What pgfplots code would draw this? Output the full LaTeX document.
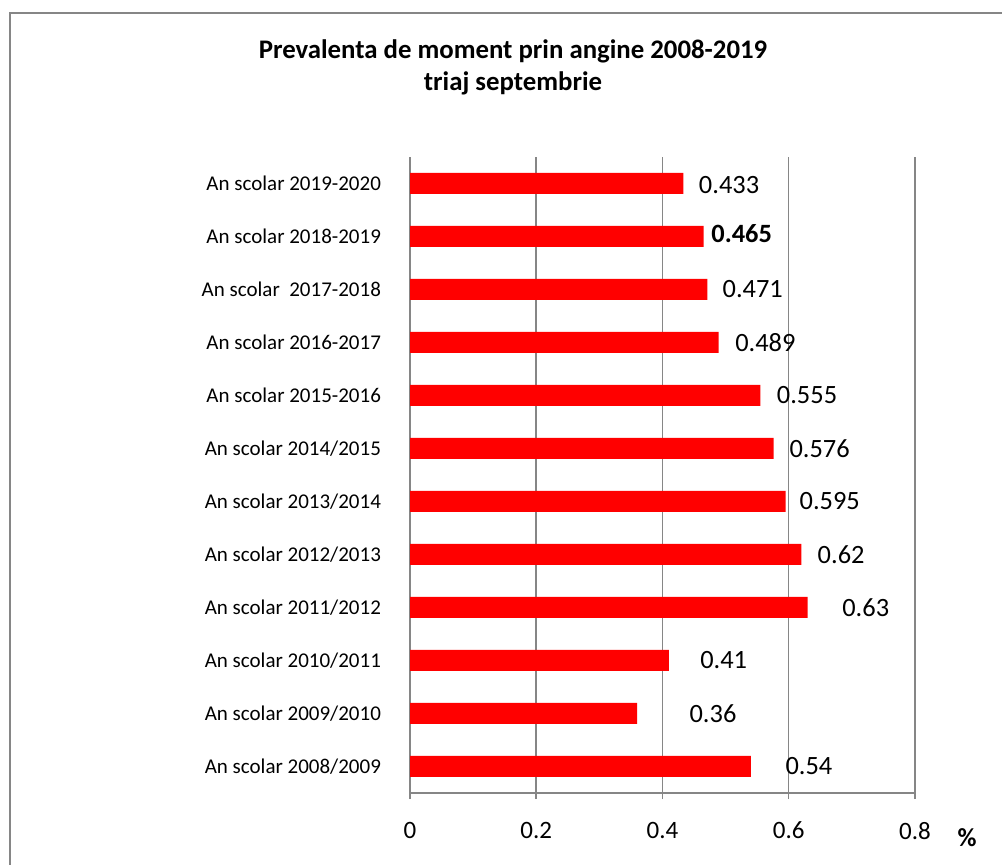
\documentclass[border=0pt]{standalone}
\usepackage{pgfplots}
\pgfplotsset{compat=1.18}
\usepackage{fontspec}
\setmainfont{Carlito}
\definecolor{axgray}{RGB}{134,134,134}
\begin{document}
\begin{tikzpicture}
\useasboundingbox (0,0) rectangle (501pt,-432.5pt);
\draw[axgray, line width=1pt] (5pt,-432.5pt) -- (5pt,-6.5pt) -- (501pt,-6.5pt);
\node[font=\bfseries\fontsize{13.4}{16}\selectfont, align=center] at (256.5pt,-33.5pt) {Prevalenta de moment prin angine 2008-2019\\triaj septembrie};
\begin{axis}[
  at={(205pt,-396.5pt)}, anchor=south west, scale only axis,
  width=252.5pt, height=318pt,
  bar width=10.5pt,
  xmin=0, xmax=0.8, ymin=-0.5, ymax=11.5,
  xtick={0,0.2,0.4,0.6,0.8},
  xticklabels={0,0.2,0.4,0.6,0.8},
  ytick={0,...,11},
  yticklabels={An scolar 2008/2009, An scolar 2009/2010, An scolar 2010/2011, An scolar 2011/2012, An scolar 2012/2013, An scolar 2013/2014, An scolar 2014/2015, An scolar 2015-2016, An scolar 2016-2017, An scolar \ 2017-2018\hspace{2pt}, An scolar 2018-2019\hspace{2pt}, An scolar 2019-2020\hspace{2pt}},
  minor ytick={-0.5,0.5,...,11.5},
  ytick style={draw=none},
  minor tick length=3pt, major tick length=3pt,
  tick align=outside,
  axis x line*=bottom, axis y line*=left,
  axis line style={axgray, line width=0.75pt},
  tick style={axgray, line width=0.75pt},
  minor tick style={axgray, line width=0.75pt},
  xmajorgrids, grid style={axgray, line width=0.75pt},
  xticklabel style={font=\fontsize{12.5}{14}\selectfont, yshift=-8pt},
  yticklabel style={font=\fontsize{10.5}{12}\selectfont, xshift=-8pt},
  clip=false,
]
\addplot[xbar, fill=red, draw=none] coordinates {(0.54,0) (0.36,1) (0.41,2) (0.63,3) (0.62,4) (0.595,5) (0.576,6) (0.555,7) (0.489,8) (0.471,9) (0.465,10) (0.433,11)};
\addplot[draw=none, nodes near coords, point meta=explicit symbolic,
  every node near coord/.append style={font=\fontsize{13.2}{15}\selectfont, anchor=center, text=black}]
  coordinates {(0.632,0) [0.54] (0.480,1) [0.36] (0.497,2) [0.41] (0.722,3) [0.63] (0.683,4) [0.62] (0.665,5) [0.595] (0.649,6) [0.576] (0.629,7) [0.555] (0.563,8) [0.489] (0.543,9) [0.471] (0.5255,10.05) [\textbf{0.465}] (0.5055,10.98) [0.433]};
\end{axis}
\node[font=\bfseries\fontsize{13}{15}\selectfont] at (483.5pt,-419pt) {\%};
\end{tikzpicture}
\end{document}
